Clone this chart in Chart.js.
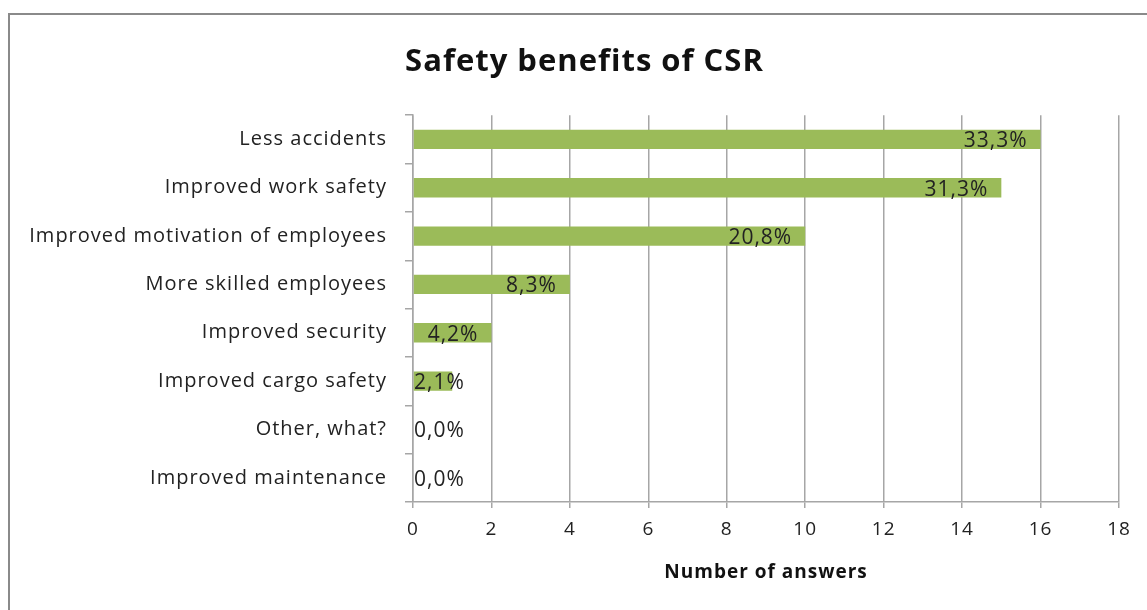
<!DOCTYPE html>
<html>
<head>
<meta charset="utf-8">
<script src="https://cdn.jsdelivr.net/npm/chart.js@4.4.0/dist/chart.umd.min.js"></script>
<style>
  html, body { margin: 0; padding: 0; background: #fff; }
  #wrap { position: relative; width: 1147px; height: 610px; overflow: hidden; }
  #frame { position: absolute; left: 8px; top: 13px; width: 1200px; height: 700px;
           border-left: 2px solid #8a8a8a; border-top: 2px solid #8a8a8a; }
  canvas { position: absolute; left: 0; top: 0; }
</style>
</head>
<body>
<div id="wrap">
  <div id="frame"></div>
  <canvas id="bar-chart" width="1147" height="610"></canvas>
</div>
<script>
var categories = [
  "Less accidents",
  "Improved work safety",
  "Improved motivation of employees",
  "More skilled employees",
  "Improved security",
  "Improved cargo safety",
  "Other, what?",
  "Improved maintenance"
];
var answers = [16, 15, 10, 4, 2, 1, 0, 0];
var percentLabels = ["33,3%", "31,3%", "20,8%", "8,3%", "4,2%", "2,1%", "0,0%", "0,0%"];
var xTicks = [0, 2, 4, 6, 8, 10, 12, 14, 16, 18];

var textColor = "#222222";
var gridColor = "#a6a6a6";
var labelFont = "Open Sans";

// the original font is wider, so space the letters out a bit
var wideText = {
  id: "wideText",
  beforeUpdate: function (chart) { chart.ctx.letterSpacing = "1px"; },
  beforeDraw: function (chart) { chart.ctx.letterSpacing = "1px"; },
  afterLayout: function (chart) {
    // title sits a bit right of the canvas centre in the original
    if (chart.titleBlock) chart.titleBlock.left += 50;
  }
};

// Excel-style value labels near the end of each bar
var valueLabels = {
  id: "valueLabels",
  afterDatasetsDraw: function (chart) {
    var ctx = chart.ctx;
    var meta = chart.getDatasetMeta(0);
    var left = chart.chartArea.left;
    ctx.save();
    ctx.font = "21px '" + labelFont + "'";
    ctx.fillStyle = textColor;
    ctx.textBaseline = "middle";
    ctx.textAlign = "left";
    meta.data.forEach(function (bar, i) {
      var txt = percentLabels[i];
      var w = ctx.measureText(txt).width;
      var x = Math.max(bar.x - 13 - w, left + 1);
      ctx.fillText(txt, x, bar.y + 2);
    });
    ctx.restore();
  }
};

var config = {
  type: "bar",
  data: {
    labels: categories,
    datasets: [
      {
        data: answers,
        backgroundColor: "#9bbb59",
        borderWidth: 0,
        barPercentage: 0.4,
        categoryPercentage: 1.0
      }
    ]
  },
  options: {
    indexAxis: "y",
    responsive: false,
    animation: false,
    layout: { padding: { left: 0, right: 28, top: 0, bottom: 0 } },
    plugins: {
      legend: { display: false },
      tooltip: { enabled: false },
      title: {
        display: true,
        text: "Safety benefits of CSR",
        color: "#111",
        font: { family: labelFont, size: 31, weight: "bold", lineHeight: 1.2 },
        padding: { top: 44, bottom: 34 }
      }
    },
    scales: {
      x: {
        min: 0,
        max: 18,
        afterBuildTicks: function (scale) {
          scale.ticks = xTicks.map(function (v) { return { value: v }; });
        },
        afterFit: function (scale) { scale.height = 108; },
        grid: { color: gridColor, lineWidth: 1.5, tickLength: 6 },
        border: { color: gridColor, width: 1.5 },
        ticks: {
          color: textColor,
          padding: 10,
          font: { family: labelFont, size: 19 }
        },
        title: {
          display: true,
          text: "Number of answers",
          color: "#111",
          font: { family: labelFont, size: 19, weight: "bold", lineHeight: 1.2 },
          padding: { top: 0, bottom: 26 }
        }
      },
      y: {
        afterFit: function (scale) { scale.width = 413; },
        grid: { drawOnChartArea: false, color: gridColor, lineWidth: 1.5, tickLength: 8 },
        border: { color: gridColor, width: 1.5 },
        ticks: {
          color: textColor,
          padding: 18,
          font: { family: labelFont, size: 20 }
        }
      }
    }
  },
  plugins: [wideText, valueLabels]
};

var ctx = document.getElementById("bar-chart").getContext("2d");
window.myBar = new Chart(ctx, config);
</script>
</body>
</html>
